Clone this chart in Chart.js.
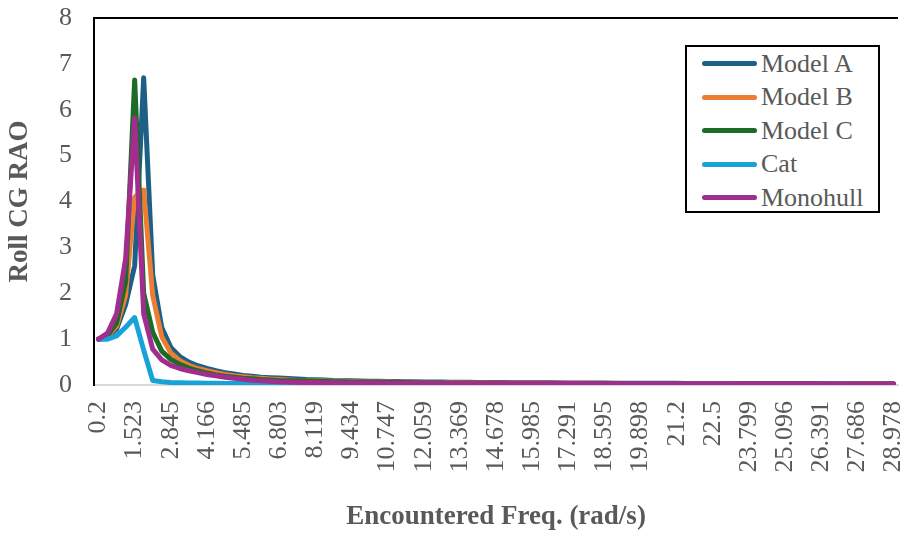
<!DOCTYPE html>
<html>

<head>
  <meta charset="utf-8">
  <title>Roll CG RAO</title>
  <style>
    body {
      margin: 0;
      background: #ffffff;
    }

    .chart-container {
      position: relative;
      width: 901px;
      height: 533px;
    }

    #legend {
      position: absolute;
      left: 685px;
      top: 45px;
      width: 195px;
      height: 168px;
      box-sizing: border-box;
      border: 2px solid #000000;
      background: #ffffff;
      padding-top: 0px;
      font-family: "Liberation Serif", "Times New Roman", serif;
      font-size: 26px;
      color: #595959;
    }

    #legend .item {
      display: flex;
      align-items: center;
      height: 33.5px;
      padding-left: 15px;
    }

    #legend .swatch {
      width: 55px;
      height: 5px;
      border-radius: 3px;
      margin-right: 4px;
    }
  </style>
</head>

<body>
  <div class="chart-container">
    <canvas id="myChart"></canvas>
    <div id="legend"></div>
  </div>

  <script src="https://cdn.jsdelivr.net/npm/chart.js"></script>

  <script>

    // 刻度標籤 (每 4 個類別顯示一個)
    const freqTicks = ['0.2', '1.523', '2.845', '4.166', '5.485', '6.803', '8.119', '9.434',
      '10.747', '12.059', '13.369', '14.678', '15.985', '17.291', '18.595', '19.898',
      '21.2', '22.5', '23.799', '25.096', '26.391', '27.686', '28.978'];
    const ticksEvery = 4;

    // 資料
    const modelA = [
      1.00, 1.05, 1.22, 1.75, 2.60, 6.70, 2.40, 1.25, 0.82, 0.62,
      0.50, 0.42, 0.36, 0.31, 0.27, 0.24, 0.21, 0.19, 0.17, 0.16,
      0.15, 0.14, 0.13, 0.12, 0.115, 0.11, 0.10, 0.095, 0.09, 0.087,
      0.084, 0.081, 0.078, 0.075, 0.072, 0.07, 0.068, 0.066, 0.064, 0.062,
      0.06, 0.058, 0.056, 0.055, 0.054, 0.052, 0.051, 0.05, 0.049, 0.048,
      0.047, 0.046, 0.045, 0.044, 0.043, 0.042, 0.041, 0.04, 0.04, 0.039,
      0.038, 0.038, 0.037, 0.036, 0.036, 0.035, 0.035, 0.034, 0.034, 0.033,
      0.033, 0.032, 0.032, 0.031, 0.031, 0.03, 0.03, 0.03, 0.029, 0.029,
      0.029, 0.028, 0.028, 0.028, 0.027, 0.027, 0.027, 0.026, 0.026
    ];
    const modelB = [
      1.00, 1.06, 1.28, 1.95, 4.10, 4.25, 1.95, 1.05, 0.70, 0.53,
      0.43, 0.36, 0.31, 0.27, 0.23, 0.20, 0.18, 0.16, 0.145, 0.13,
      0.12, 0.11, 0.10, 0.095, 0.09, 0.085, 0.08, 0.077, 0.074, 0.071,
      0.068, 0.066, 0.064, 0.062, 0.06, 0.058, 0.056, 0.055, 0.053, 0.052,
      0.05, 0.049, 0.048, 0.047, 0.046, 0.045, 0.044, 0.043, 0.042, 0.041,
      0.04, 0.04, 0.039, 0.038, 0.038, 0.037, 0.036, 0.036, 0.035, 0.035,
      0.034, 0.034, 0.033, 0.033, 0.032, 0.032, 0.031, 0.031, 0.03, 0.03,
      0.03, 0.029, 0.029, 0.029, 0.028, 0.028, 0.028, 0.027, 0.027, 0.027,
      0.026, 0.026, 0.026, 0.025, 0.025, 0.025, 0.025, 0.024, 0.024
    ];
    const modelC = [
      1.00, 1.08, 1.35, 2.25, 6.65, 2.00, 1.15, 0.74, 0.56, 0.45,
      0.37, 0.31, 0.26, 0.22, 0.19, 0.17, 0.15, 0.135, 0.12, 0.11,
      0.10, 0.095, 0.09, 0.085, 0.08, 0.076, 0.072, 0.069, 0.066, 0.063,
      0.06, 0.058, 0.056, 0.054, 0.052, 0.05, 0.049, 0.048, 0.047, 0.046,
      0.045, 0.044, 0.043, 0.042, 0.041, 0.04, 0.039, 0.038, 0.038, 0.037,
      0.036, 0.036, 0.035, 0.035, 0.034, 0.034, 0.033, 0.033, 0.032, 0.032,
      0.031, 0.031, 0.03, 0.03, 0.03, 0.029, 0.029, 0.029, 0.028, 0.028,
      0.028, 0.027, 0.027, 0.027, 0.026, 0.026, 0.026, 0.025, 0.025, 0.025,
      0.025, 0.024, 0.024, 0.024, 0.024, 0.023, 0.023, 0.023, 0.023
    ];
    const cat = [
      1.00, 1.00, 1.07, 1.26, 1.47, 0.76, 0.10, 0.07, 0.055, 0.048,
      0.044, 0.041, 0.038, 0.036, 0.034, 0.033, 0.032, 0.031, 0.03, 0.029,
      0.028, 0.027, 0.026, 0.026, 0.025, 0.025, 0.024, 0.024, 0.023, 0.023,
      0.022, 0.022, 0.022, 0.021, 0.021, 0.021, 0.02, 0.02, 0.02, 0.02,
      0.019, 0.019, 0.019, 0.019, 0.018, 0.018, 0.018, 0.018, 0.018, 0.017,
      0.017, 0.017, 0.017, 0.017, 0.017, 0.016, 0.016, 0.016, 0.016, 0.016,
      0.016, 0.016, 0.016, 0.015, 0.015, 0.015, 0.015, 0.015, 0.015, 0.015,
      0.015, 0.015, 0.015, 0.014, 0.014, 0.014, 0.014, 0.014, 0.014, 0.014,
      0.014, 0.014, 0.014, 0.014, 0.013, 0.013, 0.013, 0.013, 0.013
    ];
    const monohull = [
      1.00, 1.13, 1.55, 2.75, 5.82, 1.55, 0.78, 0.55, 0.43, 0.36,
      0.31, 0.27, 0.23, 0.20, 0.17, 0.145, 0.125, 0.105, 0.09, 0.08,
      0.07, 0.065, 0.06, 0.056, 0.052, 0.05, 0.048, 0.046, 0.044, 0.043,
      0.042, 0.041, 0.04, 0.039, 0.038, 0.037, 0.036, 0.036, 0.035, 0.035,
      0.034, 0.034, 0.033, 0.033, 0.032, 0.032, 0.032, 0.031, 0.031, 0.031,
      0.03, 0.03, 0.03, 0.03, 0.029, 0.029, 0.029, 0.029, 0.028, 0.028,
      0.028, 0.028, 0.028, 0.027, 0.027, 0.027, 0.027, 0.027, 0.026, 0.026,
      0.026, 0.026, 0.026, 0.026, 0.025, 0.025, 0.025, 0.025, 0.025, 0.025,
      0.025, 0.024, 0.024, 0.024, 0.024, 0.024, 0.024, 0.024, 0.024
    ];

    // 類別: 只有每第 4 個有標籤
    const labels = [];
    freqTicks.forEach((t, k) => {
      labels.push(t);
      if (k < freqTicks.length - 1) {
        for (let j = 1; j < ticksEvery; j++) labels.push('');
      }
    });

    // 樣式定義區塊
    const fontFamily = '"Liberation Serif", "Times New Roman", serif';
    const textColor = '#595959';

    const series = [
      { label: 'Model A', data: modelA, color: '#1c5f87' },
      { label: 'Model B', data: modelB, color: '#ed7d31' },
      { label: 'Model C', data: modelC, color: '#1d6b26' },
      { label: 'Cat', data: cat, color: '#17a2d8' },
      { label: 'Monohull', data: monohull, color: '#a12e8f' }
    ];

    const data = {
      labels: labels,
      datasets: series.map((s, i) => ({
        label: s.label,
        data: s.data,
        borderColor: s.color,
        backgroundColor: s.color,
        borderWidth: 5,
        pointRadius: 0,
        tension: 0,
        borderCapStyle: 'round',
        borderJoinStyle: 'round',
        order: series.length - i   // 後面的系列畫在上面
      }))
    };

    // 上框線
    const topBorder = {
      id: 'topBorder',
      afterDraw(chart) {
        const { ctx, chartArea } = chart;
        ctx.save();
        ctx.strokeStyle = '#000000';
        ctx.lineWidth = 2;
        ctx.beginPath();
        ctx.moveTo(chartArea.left - 1, chartArea.top);
        ctx.lineTo(chartArea.right, chartArea.top);
        ctx.stroke();
        ctx.restore();
      }
    };

    const config = {
      type: 'line',
      data: data,
      options: {
        responsive: true,
        maintainAspectRatio: false,
        animation: false,
        layout: {
          padding: { top: 18, right: 3, left: 0, bottom: 0 }
        },
        plugins: {
          legend: { display: false },
          tooltip: { enabled: false }
        },
        scales: {
          x: {
            offset: true,
            grid: { display: false, drawTicks: false },
            border: { display: true, color: '#d9d9d9', width: 2 },
            ticks: {
              autoSkip: false,
              minRotation: 90,
              maxRotation: 90,
              padding: 16,
              color: textColor,
              font: { family: fontFamily, size: 26 }
            },
            title: {
              display: true,
              text: 'Encountered Freq. (rad/s)',
              color: textColor,
              padding: { top: 0, bottom: 0 },
              font: { family: fontFamily, size: 27, weight: 'bold' }
            },
            afterFit: (scale) => {
              scale.height = 148;
              scale.paddingLeft = 0;
              scale.paddingRight = 0;
            }
          },
          y: {
            min: 0,
            max: 8,
            grid: { display: false, drawTicks: false },
            border: { display: true, color: '#000000', width: 2 },
            ticks: {
              stepSize: 1,
              padding: 22,
              color: textColor,
              font: { family: fontFamily, size: 26 }
            },
            title: {
              display: true,
              text: 'Roll CG RAO',
              color: textColor,
              padding: { top: 4, bottom: 0 },
              font: { family: fontFamily, size: 27, weight: 'bold' }
            },
            afterFit: (scale) => {
              scale.width = 94;
              scale.paddingTop = 0;
              scale.paddingBottom = 0;
            }
          }
        }
      },
      plugins: [topBorder]
    };

    //渲染圖表區塊
    var ctx = document.getElementById('myChart').getContext('2d');
    var myChart = new Chart(ctx, config);

    // 圖例 (放在繪圖區內右上角)
    const legendBox = document.getElementById('legend');
    myChart.data.datasets.forEach((ds) => {
      const item = document.createElement('div');
      item.className = 'item';
      const sw = document.createElement('span');
      sw.className = 'swatch';
      sw.style.background = ds.borderColor;
      const txt = document.createElement('span');
      txt.textContent = ds.label;
      item.appendChild(sw);
      item.appendChild(txt);
      legendBox.appendChild(item);
    });

  </script>

</body>

</html>
